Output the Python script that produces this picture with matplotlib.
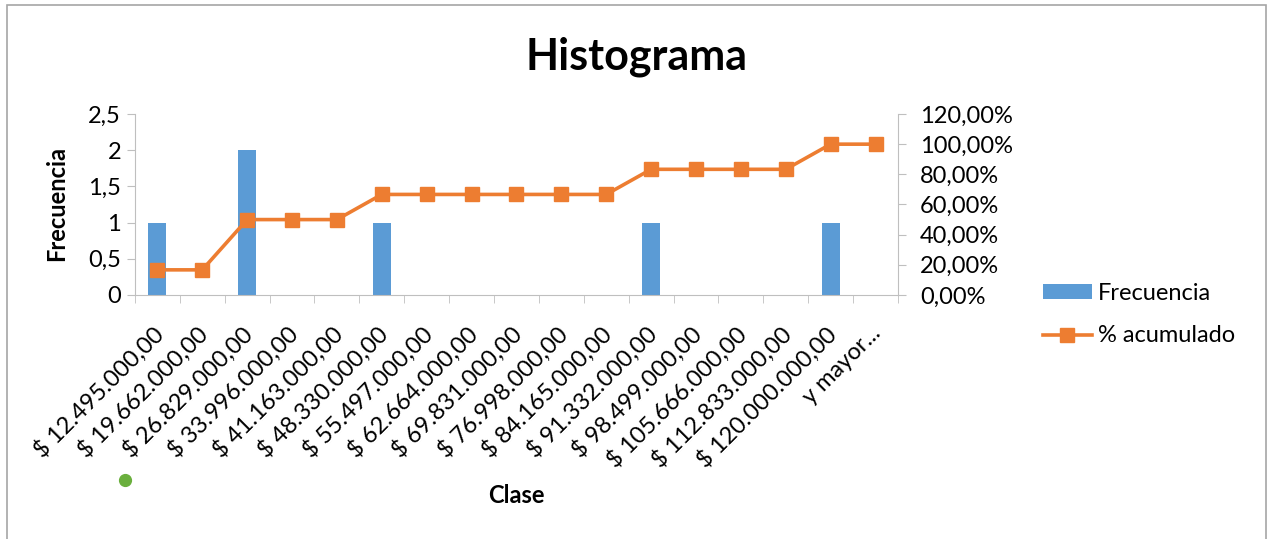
import numpy as np
import matplotlib.pyplot as plt
from matplotlib.lines import Line2D
from matplotlib.transforms import ScaledTranslation
from matplotlib.ticker import FuncFormatter, FixedLocator

plt.rcParams['font.family'] = ['Lato', 'DejaVu Sans']

# --- data ---
clases = ['$ 12.495.000,00', '$ 19.662.000,00', '$ 26.829.000,00', '$ 33.996.000,00',
          '$ 41.163.000,00', '$ 48.330.000,00', '$ 55.497.000,00', '$ 62.664.000,00',
          '$ 69.831.000,00', '$ 76.998.000,00', '$ 84.165.000,00', '$ 91.332.000,00',
          '$ 98.499.000,00', '$ 105.666.000,00', '$ 112.833.000,00', '$ 120.000.000,00',
          'y mayor...']
frecuencia = [1, 0, 2, 0, 0, 1, 0, 0, 0, 0, 0, 1, 0, 0, 0, 1, 0]
acumulado = [16.67, 16.67, 50.00, 50.00, 50.00, 66.67, 66.67, 66.67, 66.67, 66.67,
             66.67, 83.33, 83.33, 83.33, 83.33, 100.00, 100.00]

blue = '#5B9BD5'
orange = '#ED7D31'
grey = '#BFBFBF'
fs = 17

fig = plt.figure(figsize=(12.73, 5.39), dpi=100)
ax = fig.add_axes([0.106, 0.4527, 0.5994, 0.3358])
ax2 = ax.twinx()

x = np.arange(len(clases))
bars = ax.bar(x, frecuencia, width=0.4, color=blue, label='Frecuencia', zorder=2)
line, = ax2.plot(x, acumulado, color=orange, lw=2.6, marker='s', markersize=10,
                 label='% acumulado', zorder=3)

ax.set_xlim(-0.5, len(clases) - 0.5)
ax.set_ylim(0, 2.5)
ax.set_yticks(np.arange(0, 2.51, 0.5))
ax.yaxis.set_major_formatter(FuncFormatter(lambda v, p: f'{v:g}'.replace('.', ',')))
ax2.set_ylim(0, 120)
ax2.set_yticks(np.arange(0, 121, 20))
ax2.yaxis.set_major_formatter(FuncFormatter(lambda v, p: f'{v:.2f}%'.replace('.', ',')))

# category labels at centres, tick marks on boundaries
ax.set_xticks(x)
ax.set_xticklabels(clases, rotation=45, ha='right', va='top', rotation_mode='anchor',
                   fontsize=fs)
ax.tick_params(axis='x', which='major', length=0, pad=20)
shift = ScaledTranslation(-4 / 72, 0, fig.dpi_scale_trans)
for lbl in ax.get_xticklabels():
    lbl.set_transform(lbl.get_transform() + shift)
ax.xaxis.set_minor_locator(FixedLocator(np.arange(-0.5, len(clases), 1.0)))
ax.tick_params(axis='x', which='minor', length=6, color=grey, direction='out')

ax.tick_params(axis='y', labelsize=fs, length=6, color=grey, pad=4)
ax2.tick_params(axis='y', labelsize=fs, length=6, color=grey, pad=10)

for a in (ax, ax2):
    a.spines['top'].set_visible(False)
    for s in ('left', 'right', 'bottom'):
        a.spines[s].set_color(grey)
ax.spines['right'].set_visible(False)
ax2.spines['left'].set_visible(False)
ax2.spines['bottom'].set_visible(False)

fig.text(0.0448, 0.623, 'Frecuencia', rotation=90, fontsize=fs, fontweight='bold',
         ha='center', va='center')
fig.text(0.406, 0.08, 'Clase', fontsize=fs, fontweight='bold', ha='center', va='center')
fig.text(0.5, 0.895, 'Histograma', fontsize=31, fontweight='bold', ha='center', va='center')

fig.legend([bars, line], ['Frecuencia', '% acumulado'], loc='center left',
           bbox_to_anchor=(0.8193, 0.4165), frameon=False, fontsize=fs,
           borderpad=0, borderaxespad=0, handlelength=2.06, handleheight=0.6,
           labelspacing=0.93, handletextpad=0.25)

# small green dot below the axis
fig.add_artist(Line2D([0.0982], [0.1095], marker='o', markersize=8.5, color='#6AAF3D',
                      transform=fig.transFigure))

# outer chart border
fig.add_artist(plt.Rectangle((0.0055, -0.05), 0.989, 1.0407, transform=fig.transFigure,
                             fill=False, edgecolor='#A6A6A6', lw=1.2))

fig.savefig('out.png', dpi=100, facecolor='white')
